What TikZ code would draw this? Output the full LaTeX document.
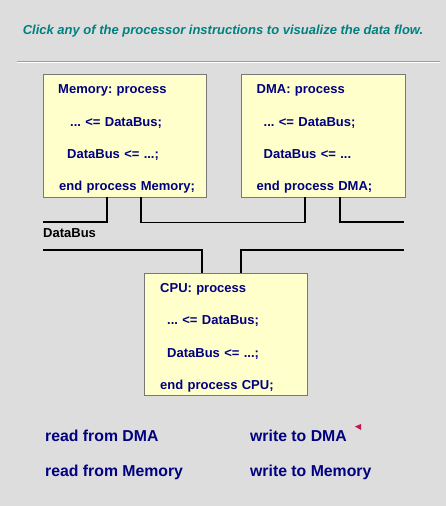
\documentclass[tikz,border=0pt]{standalone}
\usepackage{fontspec}
\setmainfont{Liberation Sans}
\usetikzlibrary{calc,positioning}
\definecolor{panel}{RGB}{221,221,221}
\definecolor{headteal}{RGB}{0,128,128}
\definecolor{navyblue}{RGB}{0,0,128}
\definecolor{note}{RGB}{255,255,204}
\definecolor{frame}{RGB}{120,120,120}
\definecolor{flag}{RGB}{200,20,80}
\newcommand{\topstrut}{\rule{0pt}{16pt}}
\newcommand{\nohyph}{\hyphenpenalty=10000\relax}
\tikzset{
  proc/.style={draw=frame,fill=note,anchor=north west,align=left,
    text width=133pt,inner xsep=15pt,minimum height=123pt,
    font=\fontsize{13}{32.3}\selectfont\bfseries\frenchspacing\nohyph,text=navyblue},
  wire/.style={line width=1.6pt},
  link/.style={anchor=west,inner sep=0pt,font=\fontsize{15.8}{18}\selectfont\bfseries,text=navyblue},
}

\begin{document}
\begin{tikzpicture}[x=1pt,y=-1pt]
  \fill[panel] (0,0) rectangle (446,506);
  \useasboundingbox (0,0) rectangle (446,506);
  \node[font=\fontsize{13}{15}\selectfont\bfseries\itshape,text=headteal] (title) at (223,31)
    {Click any of the processor instructions to visualize the data flow.};
  \draw[gray!75] (17,61) -- (440,61);
  \draw[white] (17,62.5) -- (440,62.5);
  % the three processes
  \node[proc] (mem) at (43,74) {\topstrut Memory: process\\
    \hspace*{12pt}... <= DataBus;\\
    \hspace*{9pt}DataBus <= ...;\\
    \mbox{\hspace*{1pt}end process Memory;}};
  \node[proc,minimum width=164pt] (dma) at (241,74) {\topstrut DMA: process\\
    \hspace*{7pt}... <= DataBus;\\
    \hspace*{7pt}DataBus <= ...\\
    end process DMA;};
  \node[proc,inner xsep=16pt,text width=131pt,minimum height=122pt] (cpu) at (144,273) {\topstrut CPU: process\\
    \hspace*{7pt}... <= DataBus;\\
    \hspace*{7pt}DataBus <= ...;\\
    end process CPU;};
  % bus ends
  \coordinate (upW) at (43,222);
  \coordinate (upE) at (404,222);
  \coordinate (loW) at (43,250);
  \coordinate (loE) at (404,250);
  \draw[wire] ($(mem.south west)+(64,0)$) |- (upW);
  \draw[wire] ($(mem.south west)+(98,0)$) -- ++(0,25) -| ($(dma.south west)+(64,0)$);
  \draw[wire] ($(dma.south west)+(99,0)$) |- (upE);
  \draw[wire] (loW) -| ($(cpu.north west)+(58,0)$);
  \draw[wire] ($(cpu.north west)+(97,0)$) |- (loE);
  \node[anchor=west,font=\fontsize{13}{15}\selectfont\bfseries,inner sep=0pt] (bus) at (43,233) {DataBus};
  % instructions
  \node[link] (rdma) at (45,436) {read from DMA};
  \node[link] (rmem) at (45,472) {read from Memory};
  \node[link] (wdma) at (250,436) {write to DMA};
  \node[link] (wmem) at (250,472) {write to Memory};
  \fill[flag] (355,426.5) -- (361,424) -- (361,430) -- cycle;
\end{tikzpicture}
\end{document}
